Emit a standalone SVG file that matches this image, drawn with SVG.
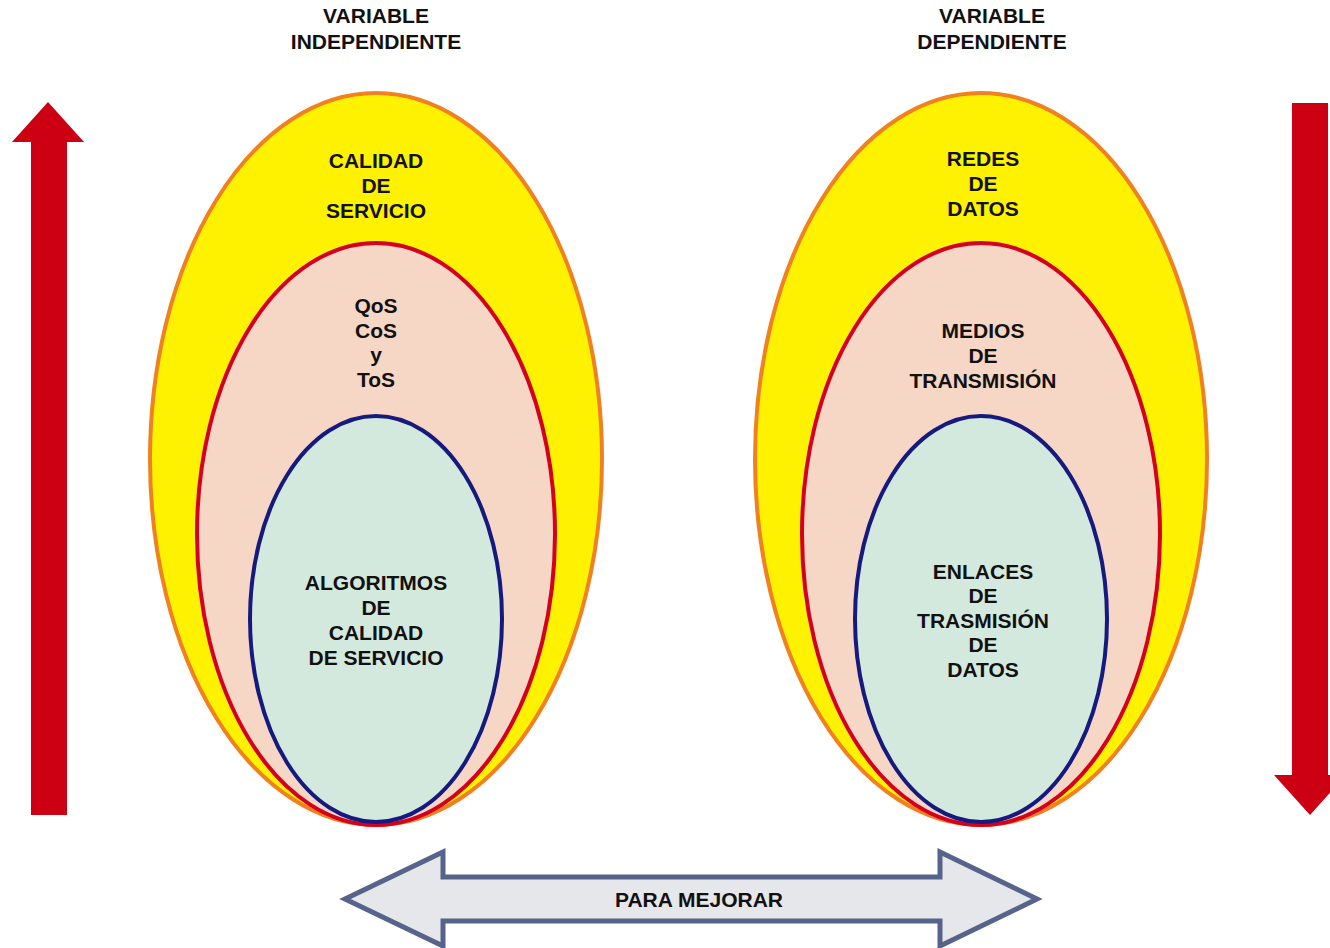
<svg xmlns="http://www.w3.org/2000/svg" width="1330" height="948" viewBox="0 0 1330 948">
<style>
text{font-family:"Liberation Sans",Arial,sans-serif;font-weight:bold;font-size:21px;fill:#111;text-anchor:middle}
.o{fill:#fff200;stroke:#f08020;stroke-width:4}
.m{fill:#f6d6c5;stroke:#d4001e;stroke-width:4}
.i{fill:#d4e9dd;stroke:#161a7e;stroke-width:4}
.ra{fill:#cc0012}
.ba{fill:#e6e7ea;stroke:#56648c;stroke-width:5;stroke-linejoin:miter}
</style>
<rect width="1330" height="948" fill="#fff"/>
<g id="titles">
<text x="376" y="23">VARIABLE</text>
<text x="376" y="49">INDEPENDIENTE</text>
<text x="992" y="23">VARIABLE</text>
<text x="992" y="49">DEPENDIENTE</text>
</g>
<g id="arrow-up"><polygon class="ra" points="48,102 84,142 67,142 67,815 31,815 31,142 12,142"/></g>
<g id="arrow-down"><polygon class="ra" points="1292,103 1328,103 1328,775 1346,775 1310,815 1274,775 1292,775"/></g>
<g id="left-outer"><ellipse class="o" cx="376" cy="459" rx="226" ry="366"/>
<text x="376" y="168">CALIDAD</text><text x="376" y="193">DE</text><text x="376" y="218">SERVICIO</text></g>
<g id="left-middle"><ellipse class="m" cx="376" cy="534" rx="179" ry="291"/>
<text x="376" y="313">QoS</text><text x="376" y="338">CoS</text><text x="376" y="362">y</text><text x="376" y="387">ToS</text></g>
<g id="left-inner"><ellipse class="i" cx="376" cy="619" rx="126" ry="203"/>
<text x="376" y="590">ALGORITMOS</text><text x="376" y="615">DE</text><text x="376" y="640">CALIDAD</text><text x="376" y="665">DE SERVICIO</text></g>
<g id="right-outer"><ellipse class="o" cx="981" cy="459" rx="226" ry="366"/>
<text x="983" y="166">REDES</text><text x="983" y="191">DE</text><text x="983" y="216">DATOS</text></g>
<g id="right-middle"><ellipse class="m" cx="981" cy="534" rx="179" ry="291"/>
<text x="983" y="338">MEDIOS</text><text x="983" y="363">DE</text><text x="983" y="388">TRANSMISIÓN</text></g>
<g id="right-inner"><ellipse class="i" cx="981" cy="619" rx="126" ry="203"/>
<text x="983" y="579">ENLACES</text><text x="983" y="603">DE</text><text x="983" y="628">TRASMISIÓN</text><text x="983" y="652">DE</text><text x="983" y="677">DATOS</text></g>
<g id="connectors">
<g id="para-mejorar"><polygon class="ba" points="345,899 443,852 443,877 940,877 940,852 1037,899 940,946 940,921 443,921 443,946"/>
<text x="699" y="907">PARA MEJORAR</text></g>
</g>
</svg>
